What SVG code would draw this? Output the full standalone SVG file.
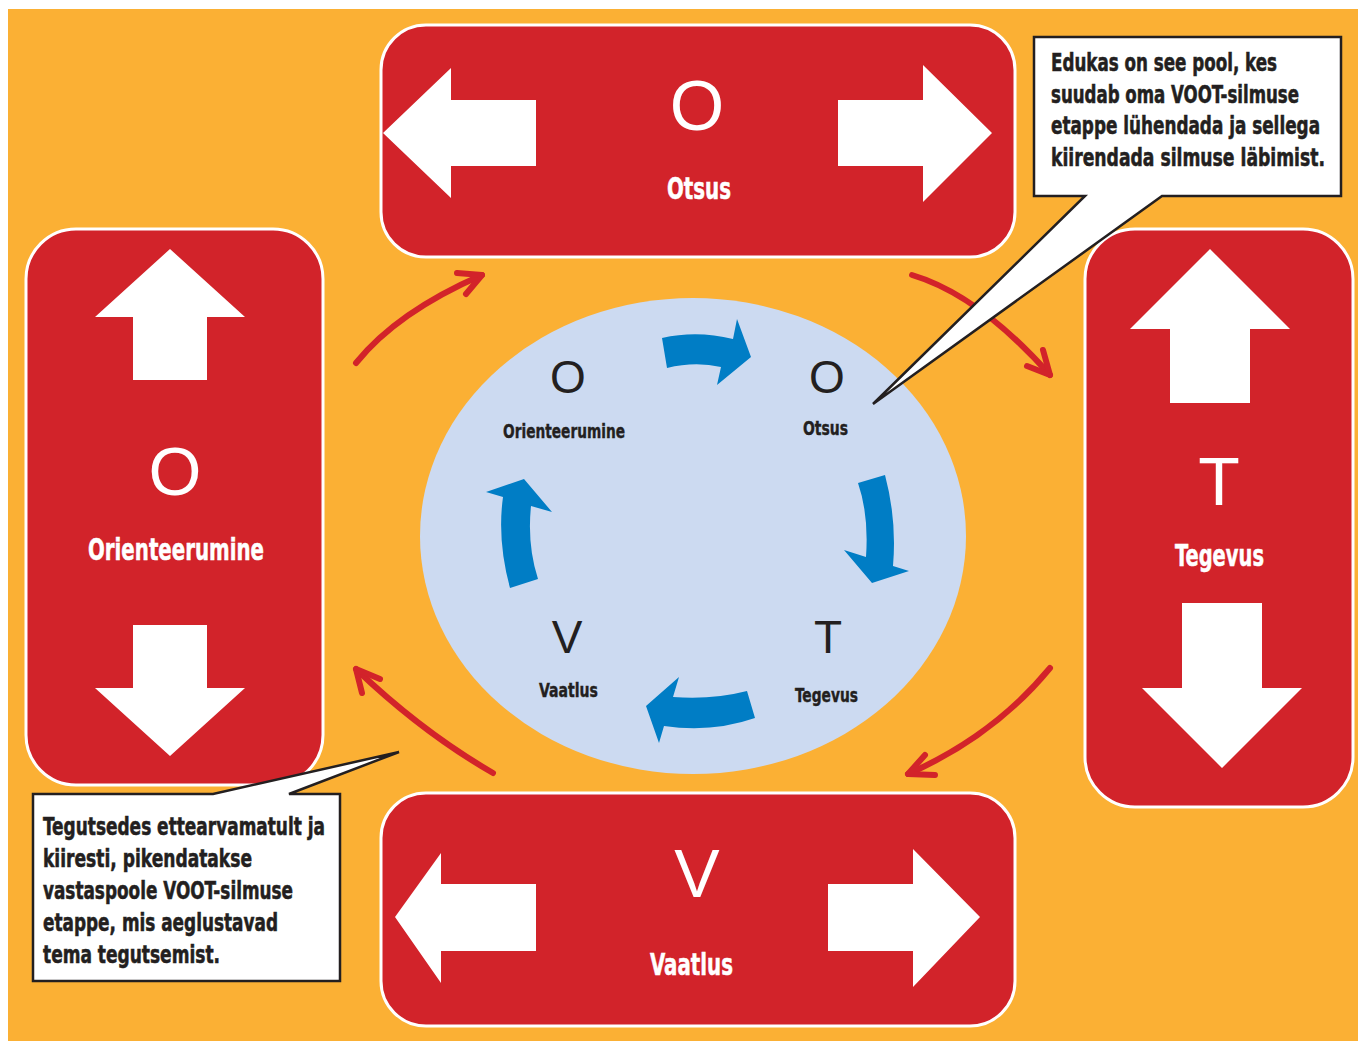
<svg xmlns="http://www.w3.org/2000/svg" width="1358" height="1041" viewBox="0 0 1358 1041">
<style>
.box{fill:#D2232A;stroke:#FFFFFF;stroke-width:3}
.warr{fill:#FFFFFF}
.big{font-family:"Liberation Sans",Arial,sans-serif;font-weight:normal;text-anchor:middle}
.bigw{fill:#FFFFFF}
.bigd{fill:#231F20}
.cond{font-family:"DejaVu Sans Condensed","DejaVu Sans",sans-serif;font-stretch:condensed;font-weight:bold}
.lblw{fill:#FFFFFF;font-size:30px;stroke:#FFFFFF;stroke-width:0.5}
.lbld{fill:#231F20;font-size:20px;stroke:#231F20;stroke-width:0.4}
.call{fill:#FFFFFF;stroke:#231F20;stroke-width:2.5;stroke-linejoin:miter}
.ctext{fill:#231F20;font-size:18px;stroke:#231F20;stroke-width:0.4}
.red{fill:none;stroke:#D2232A;stroke-width:6;stroke-linecap:round;stroke-linejoin:round}
.blue{fill:#007DC5}
</style>
<rect x="0" y="0" width="1358" height="1041" fill="#FFFFFF"/>
<rect x="8" y="9" width="1350" height="1032" fill="#FBB034"/>

<g id="node-otsus">
<rect class="box" x="381" y="25" width="634" height="232" rx="45"/>
<polygon class="warr" points="383,133 451,68 451,100 536,100 536,166 451,166 451,198"/>
<polygon class="warr" points="992,133 923,65 923,100 838,100 838,166 923,166 923,202"/>
<text class="big bigw" x="697" y="130" font-size="70">O</text>
<text class="cond lblw" x="667" y="199" textLength="64" lengthAdjust="spacingAndGlyphs">Otsus</text>
</g>

<g id="node-orienteerumine">
<rect class="box" x="26" y="229" width="297" height="556" rx="50"/>
<polygon class="warr" points="170,249 245,317 207,317 207,380 133,380 133,317 95,317"/>
<polygon class="warr" points="170,756 245,688 207,688 207,625 133,625 133,688 95,688"/>
<text class="big bigw" x="175" y="495" font-size="68">O</text>
<text class="cond lblw" x="88" y="560" textLength="176" lengthAdjust="spacingAndGlyphs">Orienteerumine</text>
</g>

<g id="node-tegevus">
<rect class="box" x="1085" y="229" width="268" height="578" rx="50"/>
<polygon class="warr" points="1210,249 1290,329 1250,329 1250,403 1170,403 1170,329 1130,329"/>
<polygon class="warr" points="1222,768 1302,688 1262,688 1262,603 1182,603 1182,688 1142,688"/>
<text class="big bigw" x="1219" y="505" font-size="68">T</text>
<text class="cond lblw" x="1175" y="566" textLength="89" lengthAdjust="spacingAndGlyphs">Tegevus</text>
</g>

<g id="node-vaatlus">
<rect class="box" x="381" y="793" width="634" height="233" rx="45"/>
<polygon class="warr" points="395,917 441,853 441,884 536,884 536,951 441,951 441,983"/>
<polygon class="warr" points="980,917 913,849 913,884 828,884 828,951 913,951 913,987"/>
<text class="big bigw" x="697" y="897" font-size="68">V</text>
<text class="cond lblw" x="650" y="975" textLength="83" lengthAdjust="spacingAndGlyphs">Vaatlus</text>
</g>

<g id="node-cycle">
<ellipse cx="693" cy="536" rx="273" ry="238" fill="#CCDAF1"/>
<text class="big bigd" x="568" y="393" font-size="46">O</text>
<text class="cond lbld" x="503" y="438" textLength="122" lengthAdjust="spacingAndGlyphs">Orienteerumine</text>
<text class="big bigd" x="827" y="393" font-size="46">O</text>
<text class="cond lbld" x="803" y="435" textLength="45" lengthAdjust="spacingAndGlyphs">Otsus</text>
<text class="big bigd" x="567" y="653" font-size="46">V</text>
<text class="cond lbld" x="539" y="697" textLength="59" lengthAdjust="spacingAndGlyphs">Vaatlus</text>
<text class="big bigd" x="828" y="653" font-size="46">T</text>
<text class="cond lbld" x="795" y="702" textLength="63" lengthAdjust="spacingAndGlyphs">Tegevus</text>
</g>

<g id="connectors">
<path class="red" d="M356,363 Q397,312 482,275"/>
<polyline class="red" points="457,273 482,275 466,294"/>
<path class="red" d="M912,275 Q979,295 1050,375"/>
<polyline class="red" points="1043,350 1050,375 1027,366"/>
<path class="red" d="M1050,668 Q994,736 908,774"/>
<polyline class="red" points="925,755 908,774 935,775"/>
<path class="red" d="M493,773 Q422,732 356,669"/>
<polyline class="red" points="380,679 356,669 362,693"/>
<path class="blue" d="M662,338 Q697,330 733,339 L737,319 L751,357 L717,385 L721,367 Q695,361 667,368 Z"/>
<path class="blue" d="M858,483 L885,475 Q897,520 893,566 L909,571 L872,583 L844,550 L866,557 Q869,515 858,483 Z"/>
<path class="blue" d="M747,691 Q712,700 673,697 L679,677 L646,706 L659,743 L664,726 Q712,733 755,718 Z"/>
<path class="blue" d="M510,588 Q497,540 503,497 L486,492 L524,479 L552,512 L531,506 Q527,545 538,579 Z"/>
</g>

<g id="callout-top">
<path class="call" d="M1034,37 H1341 V196 H1162 L873,404 L1085,196 H1034 Z"/>
<text class="cond ctext" transform="translate(1051,71) scale(1,1.333)" x="0" y="0" textLength="226" lengthAdjust="spacingAndGlyphs">Edukas on see pool, kes</text>
<text class="cond ctext" transform="translate(1051,103) scale(1,1.333)" x="0" y="0" textLength="248" lengthAdjust="spacingAndGlyphs">suudab oma VOOT-silmuse</text>
<text class="cond ctext" transform="translate(1051,134) scale(1,1.333)" x="0" y="0" textLength="269" lengthAdjust="spacingAndGlyphs">etappe lühendada ja sellega</text>
<text class="cond ctext" transform="translate(1051,166) scale(1,1.333)" x="0" y="0" textLength="274" lengthAdjust="spacingAndGlyphs">kiirendada silmuse läbimist.</text>
</g>

<g id="callout-bottom">
<path class="call" d="M33,794 H213 L399,752 L289,794 H340 V981 H33 Z"/>
<text class="cond ctext" transform="translate(43,835) scale(1,1.333)" x="0" y="0" textLength="282" lengthAdjust="spacingAndGlyphs">Tegutsedes ettearvamatult ja</text>
<text class="cond ctext" transform="translate(43,867) scale(1,1.333)" x="0" y="0" textLength="209" lengthAdjust="spacingAndGlyphs">kiiresti, pikendatakse</text>
<text class="cond ctext" transform="translate(43,899) scale(1,1.333)" x="0" y="0" textLength="250" lengthAdjust="spacingAndGlyphs">vastaspoole VOOT-silmuse</text>
<text class="cond ctext" transform="translate(43,931) scale(1,1.333)" x="0" y="0" textLength="235" lengthAdjust="spacingAndGlyphs">etappe, mis aeglustavad</text>
<text class="cond ctext" transform="translate(43,963) scale(1,1.333)" x="0" y="0" textLength="177" lengthAdjust="spacingAndGlyphs">tema tegutsemist.</text>
</g>
</svg>
